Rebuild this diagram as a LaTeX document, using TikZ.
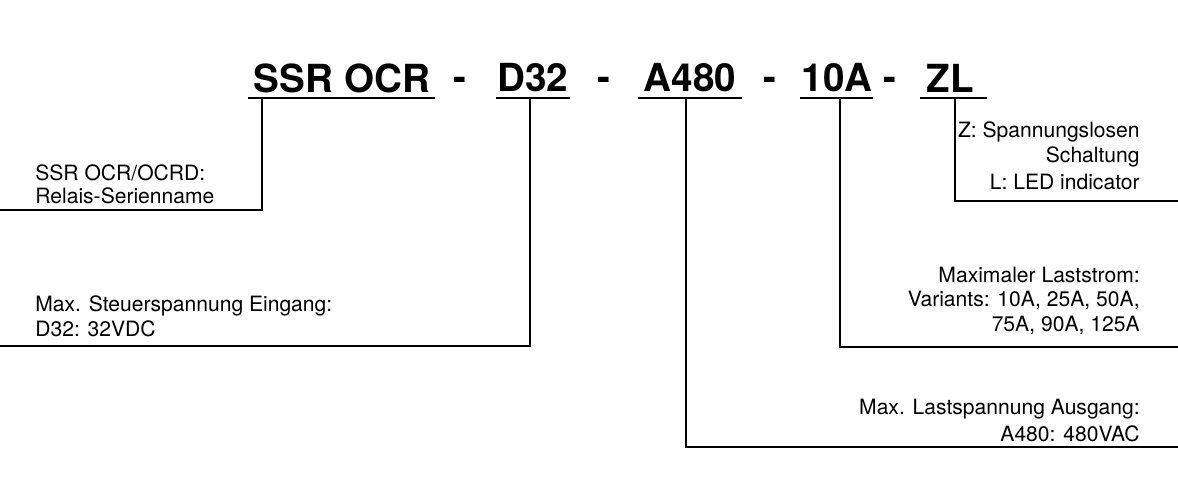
\documentclass[tikz,border=0pt]{standalone}
\usepackage{fontspec}
\setmainfont{TeX Gyre Heros}
\begin{document}
\begin{tikzpicture}[x=0.02cm,y=-0.02cm,
  lbl/.style={font=\fontsize{12}{14}\selectfont,inner sep=0pt},
  ttl/.style={font=\fontsize{22}{24}\selectfont\bfseries,inner sep=0pt},
  ln/.style={line width=1.1pt}]
\useasboundingbox (0,0) rectangle (1178,500);
\node[ttl] (t1) at (342,78) {SSR OCR};
\node[ttl] (h1) at (460,84) {-};
\node[ttl] (t2) at (533,78) {D32};
\node[ttl] (h2) at (604,84) {-};
\node[ttl] (t3) at (690,78) {A480};
\node[ttl] (h3) at (770,84) {-};
\node[ttl] (t4) at (837,78) {10A};
\node[ttl] (h4) at (890,84) {-};
\node[ttl] (t5) at (950,78) {ZL};
\coordinate (u1a) at (248,98); \coordinate (u1b) at (435,98);
\coordinate (u2a) at (496,98); \coordinate (u2b) at (570,98);
\coordinate (u3a) at (638,98); \coordinate (u3b) at (742,98);
\coordinate (u4a) at (800,98); \coordinate (u4b) at (873,98);
\coordinate (u5a) at (920,98); \coordinate (u5b) at (987,98);
\draw[ln] (u1a)--(u1b) (u2a)--(u2b) (u3a)--(u3b) (u4a)--(u4b) (u5a)--(u5b);
\coordinate (e1) at (0,210); \coordinate (e2) at (0,346);
\coordinate (e3) at (1178,447); \coordinate (e4) at (1178,347); \coordinate (e5) at (1178,201);
\draw[ln] (262,98) |- (e1);
\draw[ln] (530,98) |- (e2);
\draw[ln] (686,98) |- (e3);
\draw[ln] (840,98) |- (e4);
\draw[ln] (955,98) |- (e5);
\node[lbl,anchor=west] (a1) at (35,173) {SSR OCR/OCRD:};
\node[lbl,anchor=west] (a2) at (35,196) {Relais-Serienname};
\node[lbl,anchor=west] (b1) at (35,306) {Max. Steuerspannung Eingang:};
\node[lbl,anchor=west] (b2) at (35,329) {D32: 32VDC};
\node[lbl,anchor=east] (c1) at (1140,409) {Max. Lastspannung Ausgang:};
\node[lbl,anchor=east] (c2) at (1140,434) {A480: 480VAC};
\node[lbl,anchor=east] (d1) at (1140,275) {Maximaler Laststrom:};
\node[lbl,anchor=east] (d2) at (1140,300) {Variants: 10A, 25A, 50A,};
\node[lbl,anchor=east] (d3) at (1140,325) {75A, 90A, 125A};
\node[lbl,anchor=east] (f1) at (1140,132) {Z: Spannungslosen};
\node[lbl,anchor=east] (f2) at (1140,157) {Schaltung};
\node[lbl,anchor=east] (f3) at (1140,182) {L: LED indicator};
\end{tikzpicture}
\end{document}
